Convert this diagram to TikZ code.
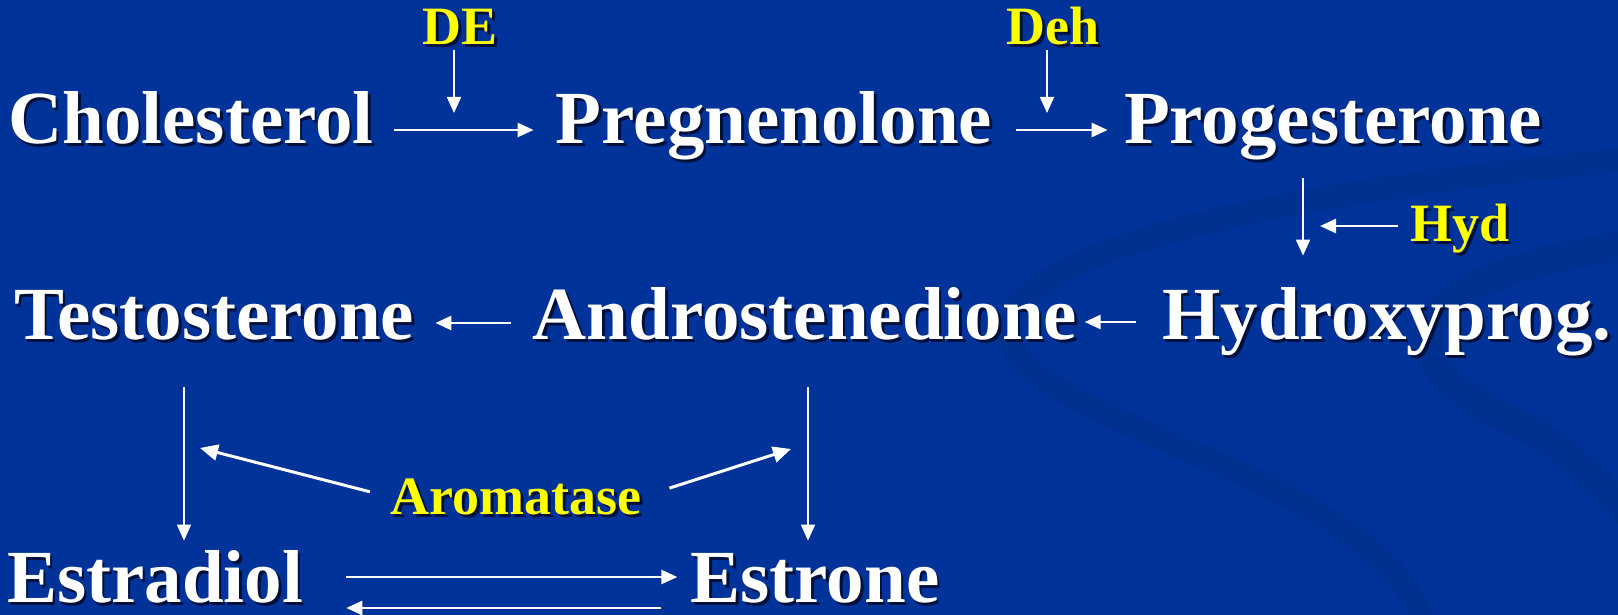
\documentclass[tikz,border=0pt]{standalone}
\usepackage{fontspec}
\setmainfont{Liberation Serif}
\usetikzlibrary{arrows.meta}
\definecolor{slide}{HTML}{003399}
\definecolor{swoosh}{HTML}{003191}
\definecolor{shade}{HTML}{00103A}
\definecolor{enzyme}{HTML}{FFFF00}
\newcommand{\shd}[1]{\rlap{\kern1.3pt\raisebox{-1.3pt}{\color{shade}#1}}#1}

\begin{document}
\begin{tikzpicture}[x=0.5pt,y=0.5pt,
  chem/.style={anchor=base,inner sep=0pt,text height=26pt,text depth=8pt,
    text=white,font=\fontsize{37.5}{41}\selectfont\bfseries},
  enz/.style={anchor=base,inner sep=0pt,text height=18pt,text depth=0pt,
    text=enzyme,font=\fontsize{27}{31}\selectfont\bfseries},
  arr/.style={draw=white,line width=1.3pt,-{Triangle[length=8pt,width=7pt]}},
  feed/.style={arr,line width=0.9pt},
  arom/.style={arr,line width=1.5pt,-{Triangle[length=9pt,width=8pt]}}]
  % slide background
  \useasboundingbox (0,0) rectangle (1618,615);
  \fill[slide] (0,0) rectangle (1618,615);
  \begin{scope}
    \clip (0,0) rectangle (1618,615);
    \draw[swoosh,line width=12pt] (1640,457) .. controls (1250,420) and (1000,360) .. (1010,280)
      .. controls (1020,190) and (1380,140) .. (1425,-10);
    \draw[swoosh,line width=15pt] (1640,372) .. controls (1400,340) and (1380,260) .. (1500,200)
      .. controls (1560,170) .. (1640,90);
  \end{scope}
  % compounds
  \foreach \n/\x/\y/\t in {chol/191/471/Cholesterol, preg/774/471/Pregnenolone,
    prog/1333/471/Progesterone, testo/214/275/Testosterone,
    andro/805/275/Androstenedione, hydr/1387/275/Hydroxyprog.}
    \node[chem] (\n) at (\x,\y) {\shd{\t}};
  \foreach \n/\x/\t in {estr/155/Estradiol, estn/815/Estrone}
    \node[chem,text depth=0pt] (\n) at (\x,12) {\shd{\t}};
  % enzymes
  \node[enz] (de) at (460,570) {\shd{DE}};
  \node[enz] (deh) at (1053,570) {\shd{Deh}};
  \node[enz] (hyd) at (1460,373) {\shd{Hyd}};
  \node[enz] (aro) at (516,100) {\shd{Aromatase}};
  \coordinate (deTip) at (454,502);
  \coordinate (dehTip) at (1047,502);
  \coordinate (hydTip) at (1320,389);
  \coordinate (aroL) at (200,167);
  \coordinate (aroR) at (791,166);
  % main chain
  \draw[arr,shorten <=10pt,shorten >=11pt] ([yshift=7pt]chol.base east) -- ([yshift=7pt]preg.base west);
  \draw[arr,shorten <=12pt,shorten >=8pt] ([yshift=7pt]preg.base east) -- ([yshift=7pt]prog.base west);
  \draw[feed,shorten <=9pt,shorten >=16pt] ([xshift=-15pt]prog.south) -- ([xshift=-15pt]prog.south |- hydr.north);
  \draw[arr,shorten <=13pt,shorten >=3.5pt] ([yshift=9pt]hydr.base west) -- ([yshift=9pt]andro.base east);
  \draw[arr,shorten <=10.5pt,shorten >=10.5pt] ([yshift=8.5pt]andro.base west) -- ([yshift=8.5pt]testo.base east);
  \draw[feed,shorten <=15.5pt,shorten >=5pt] ([xshift=-15pt]testo.south) -- ([xshift=-15pt]testo.south |- estr.north);
  \draw[feed,shorten <=15.5pt,shorten >=5pt] ([xshift=1.5pt]andro.south) -- ([xshift=1.5pt]andro.south |- estn.north);
  \draw[arr,shorten <=21.5pt,shorten >=6.5pt] ([yshift=13pt]estr.base east) -- ([yshift=13pt]estn.base west);
  \draw[arr,shorten <=14.5pt,shorten >=21.5pt] ([yshift=-2.5pt]estn.base west) -- ([yshift=-2.5pt]estr.base east);
  % enzyme pointers
  \draw[feed,shorten <=2.5pt] ([xshift=-3pt]de.south) -- (deTip);
  \draw[feed,shorten <=2.5pt] ([xshift=-3pt]deh.south) -- (dehTip);
  \draw[arr,shorten <=6pt] ([yshift=8pt]hyd.base west) -- (hydTip);
  \draw[arom,shorten <=10.5pt] ([yshift=9pt]aro.base west) -- (aroL);
  \draw[arom,shorten <=14.5pt] ([yshift=9pt]aro.base east) -- (aroR);
\end{tikzpicture}
\end{document}
